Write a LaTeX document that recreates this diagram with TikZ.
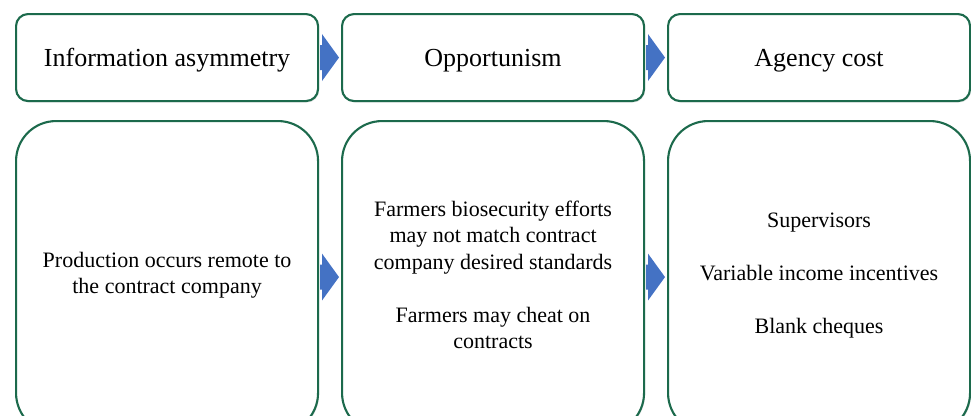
\documentclass[tikz,border=0pt]{standalone}
\usepackage{fontspec}
\setmainfont{Liberation Serif}
\usetikzlibrary{calc,shadows}
\definecolor{boxgreen}{HTML}{1C6A4C}
\definecolor{arrowblue}{HTML}{4472C4}
\newcommand{\blockarr}[2]{%
  \fill[conn] ($(#1.east)+(1,12.5)$) -- ($(#2.west)+(-19,12.5)$) -- ($(#2.west)+(-19,23.5)$)
    -- ($(#2.west)+(-2,0)$) -- ($(#2.west)+(-19,-23.5)$) -- ($(#2.west)+(-19,-12.5)$)
    -- ($(#1.east)+(1,-12.5)$) -- cycle;}
\begin{document}
\begin{tikzpicture}[x=1bp,y=-1bp,
  boxbase/.style={draw=boxgreen, line width=2.1bp, fill=white, inner sep=0pt, anchor=north west,
    minimum width=302bp,
    drop shadow={opacity=0.18, shadow xshift=1bp, shadow yshift=-1.5bp}},
  topbox/.style={boxbase, rounded corners=12bp, minimum height=87bp},
  botbox/.style={boxbase, rounded corners=40bp, minimum height=312bp},
  toptext/.style={font=\fontsize{26bp}{31bp}\selectfont, inner sep=0pt},
  bottext/.style={font=\fontsize{22bp}{26.5bp}\selectfont, align=center, inner sep=0pt},
  conn/.style={fill=arrowblue}]
\useasboundingbox (0,0) rectangle (971,415);
% top row
\node[topbox] (t1) at (15,13) {};
\node[topbox] (t2) at (341,13) {};
\node[topbox] (t3) at (667,13) {};
\node[toptext] (lt1) at ($(t1.center)+(0,3)$) {Information asymmetry};
\node[toptext] (lt2) at ($(t2.center)+(0,3)$) {Opportunism};
\node[toptext] (lt3) at ($(t3.center)+(0,3)$) {Agency cost};
% bottom row
\node[botbox] (b1) at (15,120) {};
\node[botbox] (b2) at (341,120) {};
\node[botbox] (b3) at (667,120) {};
\node[bottext] (lb1) at ($(b1.center)+(0,-2)$) {Production occurs remote to\\the contract company};
\node[bottext] (lb2) at ($(b2.center)+(0,-2)$) {Farmers biosecurity efforts\\may not match contract\\company desired standards\\[26.5bp]Farmers may cheat on\\contracts};
\node[bottext] (lb3) at ($(b3.center)+(0,-2)$) {Supervisors\\[26.5bp]Variable income incentives\\[26.5bp]Blank cheques};
% arrows
\blockarr{t1}{t2}
\blockarr{t2}{t3}
\blockarr{b1}{b2}
\blockarr{b2}{b3}
\end{tikzpicture}
\end{document}
